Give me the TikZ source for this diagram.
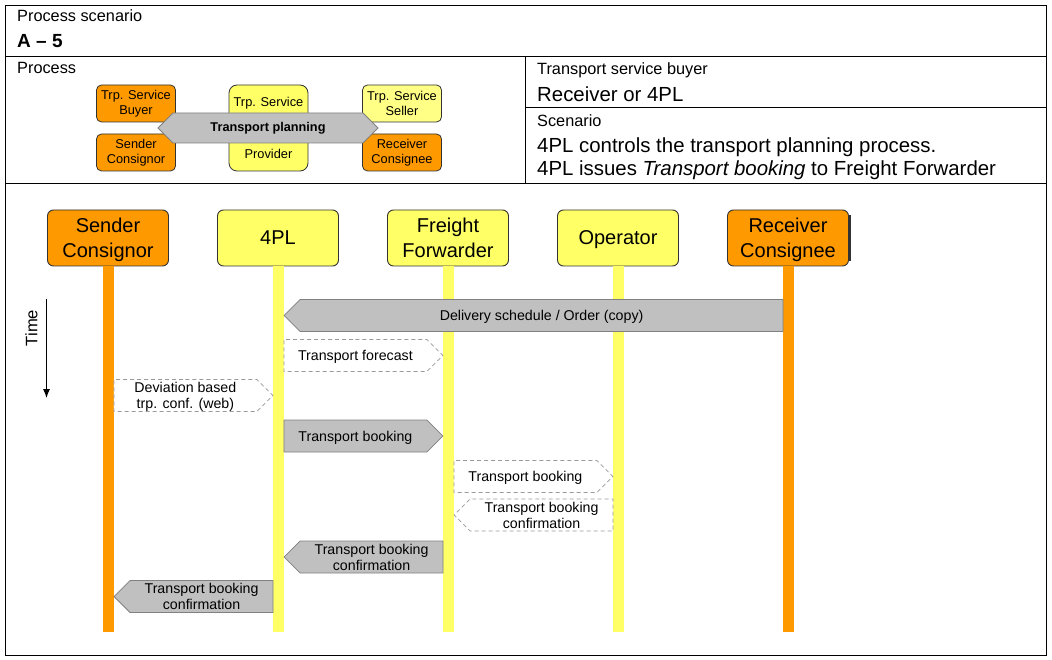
\documentclass[tikz,border=0pt]{standalone}
\usepackage{fontspec}
\setmainfont{Liberation Sans}
\usetikzlibrary{shapes.symbols,arrows.meta}
\definecolor{orangeA}{HTML}{FF9900}
\definecolor{yellowA}{HTML}{FFFF66}
\definecolor{msgGray}{HTML}{C0C0C0}
\definecolor{msgLine}{HTML}{808080}
\definecolor{dashLine}{HTML}{9A9A9A}
\definecolor{boxLine}{HTML}{333333}

\begin{document}
\begin{tikzpicture}[x=1pt,y=-1pt]
    % Define basic node styles
    \tikzset{
        cell/.style={anchor=base west, inner sep=0pt},
        role/.style={
            rectangle,
            rounded corners=5pt,
            draw=boxLine,
            line width=0.8pt,
            minimum width=79pt,
            minimum height=37pt,
            inner sep=0pt,
            align=center,
            font=\fontsize{12.8}{15}\selectfont
        },
        head/.style={
            rectangle,
            rounded corners=6pt,
            draw=boxLine,
            line width=0.9pt,
            minimum width=121pt,
            minimum height=56pt,
            inner sep=0pt,
            text depth=0pt,
            align=center,
            font=\fontsize{20}{24.5}\selectfont
        },
        lifeline/.style={line width=11pt},
        msg/.style={
            signal,
            signal pointer angle=90,
            draw=msgLine,
            fill=msgGray,
            line width=0.8pt,
            minimum height=32pt,
            inner sep=1pt,
            text depth=0pt,
            align=center,
            font=\fontsize{14.2}{16}\selectfont
        },
        dmsg/.style={msg, dash pattern=on 4pt off 3pt, draw=dashLine, fill=white}
    }

    \useasboundingbox (0,0) rectangle (1052,660);

    % Header table
    \draw[line width=1pt] (5,6) rectangle (1046,655);
    \draw[line width=1pt] (5,57) -- (1046,57);
    \draw[line width=1pt] (5,184) -- (1046,184);
    \draw[line width=1pt] (525,57) -- (525,184);
    \draw[line width=1pt] (525,108) -- (1046,108);

    \node[cell, font=\fontsize{16.3}{19}\selectfont] (scen) at (17,22) {Process scenario};
    \node[cell, font=\bfseries\fontsize{19}{22}\selectfont] (code) at (17,48) {A – 5};
    \node[cell, font=\fontsize{16.3}{19}\selectfont] (proc) at (17,74) {Process};
    \node[cell, font=\fontsize{16.3}{19}\selectfont] (buyer) at (537,75) {Transport service buyer};
    \node[cell, font=\fontsize{20.4}{24}\selectfont] (buyername) at (537,102) {Receiver or 4PL};
    \node[cell, font=\fontsize{16.3}{19}\selectfont] (scenario) at (537,127) {Scenario};
    \node[cell, font=\fontsize{20.4}{24}\selectfont] (line1) at (537,153) {4PL controls the transport planning process.};
    \node[cell, font=\fontsize{20.4}{24}\selectfont] (line2) at (537,176) {4PL issues \textit{Transport booking} to Freight Forwarder};

    % Process roles
    \node[role, fill=orangeA] (rbuyer) at (136,103.5) {Trp. Service\\Buyer};
    \node[role, fill=orangeA] (rsender) at (136,152.5) {Sender\\Consignor};
    \node[role, fill=yellowA, rounded corners=8pt, minimum height=86pt] (rprov) at (268.5,128) {Trp. Service\\[37pt]Provider};
    \node[role, fill=yellowA!80!white] (rseller) at (402,103.5) {Trp. Service\\Seller};
    \node[role, fill=orangeA] (rreceiver) at (402,152.5) {Receiver\\Consignee};
    \node[signal, signal to=west and east, signal pointer angle=90, draw=msgLine, fill=msgGray,
          line width=0.8pt, minimum width=220pt, minimum height=30pt, inner sep=0pt,
          font=\bfseries\fontsize{12.7}{15}\selectfont] (planning) at (268,128) {Transport planning};

    % Lifeline heads
    \node[head, fill=orangeA] (sender) at (108,238) {Sender\\Consignor};
    \node[head, fill=yellowA] (fpl) at (278,238) {4PL};
    \node[head, fill=yellowA] (ff) at (448,238) {Freight\\Forwarder};
    \node[head, fill=yellowA] (op) at (618,238) {Operator};
    \node[head, fill=orangeA] (rec) at (788,238) {Receiver\\Consignee};
    \draw[boxLine, line width=2pt] ([xshift=1pt,yshift=-5pt]rec.north east) -- ([xshift=1pt,yshift=5pt]rec.south east);

    % Lifelines
    \coordinate (bottom) at (0,632);
    \draw[lifeline, orangeA] (sender.south) -- (sender.south |- bottom);
    \draw[lifeline, yellowA] (fpl.south) -- (fpl.south |- bottom);
    \draw[lifeline, yellowA] (ff.south) -- (ff.south |- bottom);
    \draw[lifeline, yellowA] (op.south) -- (op.south |- bottom);
    \draw[lifeline, orangeA] (rec.south) -- (rec.south |- bottom);

    % Time axis
    \coordinate (t0) at (46.5,299);
    \coordinate (t1) at (46.5,398);
    \draw[line width=1pt, -{Latex[length=9pt,width=7pt]}] (t0) -- (t1);
    \node[rotate=90, font=\fontsize{16.6}{19}\selectfont] (time) at (31.5,328) {Time};

    % Message rows
    \coordinate (m1) at (0,315.5);
    \coordinate (m2) at (0,355.5);
    \coordinate (m3) at (0,395.5);
    \coordinate (m4) at (0,436);
    \coordinate (m5) at (0,476.5);
    \coordinate (m6) at (0,515);
    \coordinate (m7) at (0,557);
    \coordinate (m8) at (0,596.5);

    % Messages
    \node[msg, signal to=west, anchor=west, xshift=5.5pt, minimum width=499pt] (order) at (fpl.south |- m1) {Delivery schedule / Order (copy)};
    \node[dmsg, signal to=east, anchor=west, xshift=5.5pt, minimum width=159pt] (forecast) at (fpl.south |- m2) {Transport forecast};
    \node[dmsg, signal to=east, anchor=west, xshift=5.5pt, minimum width=159pt] (deviation) at (sender.south |- m3) {Deviation based\\trp. conf. (web)};
    \node[msg, signal to=east, anchor=west, xshift=5.5pt, minimum width=159pt] (booking) at (fpl.south |- m4) {Transport booking};
    \node[dmsg, signal to=east, anchor=west, xshift=5.5pt, minimum width=159pt] (fwdbooking) at (ff.south |- m5) {Transport booking};
    \node[dmsg, signal to=west, anchor=west, xshift=5.5pt, minimum width=159pt] (opconf) at (ff.south |- m6) {Transport booking\\confirmation};
    \node[msg, signal to=west, anchor=west, xshift=5.5pt, minimum width=159pt] (fwdconf) at (fpl.south |- m7) {Transport booking\\confirmation};
    \node[msg, signal to=west, anchor=west, xshift=5.5pt, minimum width=159pt] (senderconf) at (sender.south |- m8) {Transport booking\\confirmation};
\end{tikzpicture}
\end{document}
